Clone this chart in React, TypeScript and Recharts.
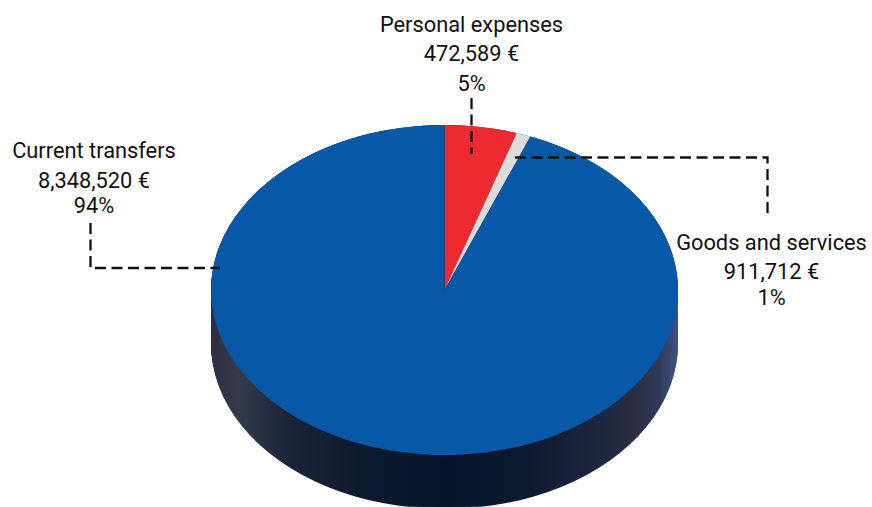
import { PieChart, Pie, Cell } from "recharts";

// ── Data ──────────────────────────────────────────────────────────────────────

const categories = ["Personal expenses", "Goods and services", "Current transfers"];
const amounts = ["472,589 €", "911,712 €", "8,348,520 €"];
const shares = [5, 1, 94];
const colors = ["#ec2a30", "#dcdcdc", "#0758a6"];

const sliceData = categories.map((name, i) => ({ name, value: shares[i] }));
const wallData = [{ name: "wall", value: 1 }];

// ── Layout ────────────────────────────────────────────────────────────────────

const WIDTH = 872;
const HEIGHT = 507;
const SQUASH = 165 / 233.5; // tilt of the disc
const CX = 444.5;
const CY = 290 / SQUASH;
const RADIUS = 233.5;
const DEPTH = 54 / SQUASH;
const wallLayers = Array.from({ length: 51 }, (_, i) => 50 - i);

const labelPos = [
  { x: 471.5, ys: [32, 61, 91] },
  { x: 771.5, ys: [250, 279, 305] },
  { x: 94, ys: [158, 188, 213] },
];

const leaders = [
  "M471.5 98V154",
  "M515 157.5H767.5V215",
  "M90.5 223V268H220",
];

const wallStops = [
  ["0%", "#2b2f3f"],
  ["6%", "#363a4c"],
  ["16%", "#1c2539"],
  ["32%", "#0d1b31"],
  ["50%", "#06152c"],
  ["68%", "#0d1b31"],
  ["84%", "#1f2740"],
  ["92%", "#2e3046"],
  ["96%", "#323a5a"],
  ["100%", "#3c5284"],
];

export default function App() {
  return (
    <div style={{ position: "absolute", left: 0, top: 0, width: WIDTH, height: HEIGHT, overflow: "hidden", background: "#fff" }}>
      <div style={{ transform: `scaleY(${SQUASH})`, transformOrigin: "0 0" }}>
        <PieChart width={WIDTH} height={HEIGHT / SQUASH} margin={{ top: 0, right: 0, bottom: 0, left: 0 }}>
          <defs>
            <linearGradient id="wall" x1="0" y1="0" x2="1" y2="0">
              {wallStops.map(([offset, color]) => (
                <stop key={offset} offset={offset} stopColor={color} />
              ))}
            </linearGradient>
          </defs>
          {wallLayers.map((k) => (
            <Pie
              key={k}
              data={wallData}
              dataKey="value"
              cx={CX}
              cy={CY + (DEPTH * k) / 50}
              outerRadius={RADIUS}
              startAngle={90}
              endAngle={-270}
              fill="url(#wall)"
              stroke="none"
              isAnimationActive={false}
            />
          ))}
          <Pie
            data={sliceData}
            dataKey="value"
            cx={CX}
            cy={CY}
            outerRadius={RADIUS}
            startAngle={90}
            endAngle={-270}
            stroke="none"
            isAnimationActive={false}
          >
            {sliceData.map((d, i) => (
              <Cell key={d.name} fill={colors[i]} />
            ))}
          </Pie>
        </PieChart>
      </div>
      <svg width={WIDTH} height={HEIGHT} style={{ position: "absolute", left: 0, top: 0 }}>
        {leaders.map((d) => (
          <path key={d} d={d} fill="none" stroke="#111" strokeWidth={2.3} strokeDasharray="11 5.5" />
        ))}
        {categories.map((name, i) => (
          <text key={name} textAnchor="middle" fontFamily="Roboto" fontSize={21.8} fill="#111">
            <tspan x={labelPos[i].x} y={labelPos[i].ys[0]}>{name}</tspan>
            <tspan x={labelPos[i].x} y={labelPos[i].ys[1]}>{amounts[i]}</tspan>
            <tspan x={labelPos[i].x} y={labelPos[i].ys[2]}>{shares[i]}%</tspan>
          </text>
        ))}
      </svg>
    </div>
  );
}
